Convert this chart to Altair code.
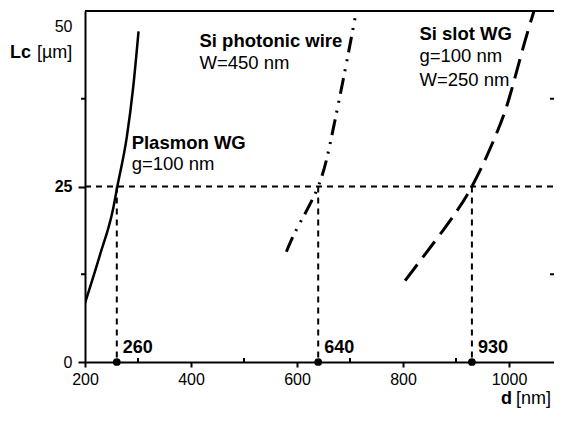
import altair as alt
import pandas as pd

FONT = "Liberation Sans"

# ---- data ----
plasmon_d = [200, 228, 253, 261, 279, 291, 301]
plasmon_lc = [8.4, 15.2, 21.8, 25.0, 32.1, 39.2, 47.1]

wire_d = [580, 602, 640, 665, 690, 712]
wire_lc = [15.7, 19.3, 25.0, 32.0, 41.3, 50.0]

slot_d = [804, 876, 930, 974, 1000, 1026, 1048]
slot_lc = [11.6, 18.8, 25.0, 32.1, 37.5, 44.6, 50.2]

cross_d = [260, 640, 930]
cross_lc = 25
cross_labels = ["260", "640", "930"]

x_tick_values = [200, 400, 600, 800, 1000]
x_minor_values = [300, 500, 700, 900]
y_tick_values = [0, 25, 50]
y_minor_values = [12.5, 37.5]

ann_text = ["Plasmon WG", "g=100 nm", "Si photonic wire", "W=450 nm",
            "Si slot WG", "g=100 nm", "W=250 nm"]
ann_bold = [True, False, True, False, True, False, False]
ann_d = [288, 288, 416, 416, 831, 831, 831]
ann_lc = [30.4, 27.4, 44.9, 41.7, 45.9, 42.7, 39.3]

W, H = 469, 351
X_MAX = 200 + W / 0.53

# ---- tables ----
plasmon = pd.DataFrame({"d": plasmon_d, "Lc": plasmon_lc})
wire = pd.DataFrame({"d": wire_d, "Lc": wire_lc})
slot = pd.DataFrame({"d": slot_d, "Lc": slot_lc})
cross = pd.DataFrame({"d": cross_d, "Lc": [cross_lc] * 3, "zero": [0] * 3,
                      "label": cross_labels})
hline = pd.DataFrame({"d": [200], "d2": [X_MAX], "Lc": [cross_lc]})
ann = pd.DataFrame({"d": ann_d, "Lc": ann_lc, "text": ann_text, "bold": ann_bold})
xminor = pd.DataFrame({"d": x_minor_values})
yminor = pd.DataFrame({"Lc": y_minor_values})
one = pd.DataFrame({"k": [0]})

xscale = alt.Scale(domain=[200, X_MAX], nice=False, zero=False)
yscale = alt.Scale(domain=[0, 50], nice=False, zero=False)

xaxis = alt.Axis(values=x_tick_values, title=None, grid=False, labelFont=FONT,
                 labelFontSize=16, labelColor="black", labelPadding=4,
                 tickSize=5, tickWidth=2, tickColor="black", format="d",
                 domainColor="black", domainWidth=2, labelFlush=False,
                 labelOverlap=False)
yaxis = alt.Axis(values=y_tick_values, title=None, grid=False, labelFont=FONT,
                 labelFontSize=16, labelColor="black", labelPadding=6,
                 tickSize=7, tickWidth=2, tickColor="black",
                 tickOpacity={"condition": {"test": "datum.value == 50", "value": 0}, "value": 1},
                 labelFontWeight={"condition": {"test": "datum.value == 25", "value": "bold"}, "value": "normal"},
                 labelOffset={"condition": {"test": "datum.value == 50", "value": 15}, "value": 0},
                 domainColor="black", domainWidth=2, labelFlush=False,
                 labelOverlap=False)


def X(field="d"):
    return alt.X(f"{field}:Q", scale=xscale, axis=xaxis)


def Y(field="Lc"):
    return alt.Y(f"{field}:Q", scale=yscale, axis=yaxis)


line_plasmon = alt.Chart(plasmon).mark_line(
    color="black", strokeWidth=2.5, interpolate="monotone", clip=True
).encode(x=X(), y=Y())

line_wire = alt.Chart(wire).mark_line(
    color="black", strokeWidth=3, interpolate="natural", clip=True,
    strokeDash=[16, 7, 2, 8, 2, 7]
).encode(x=X(), y=Y())

line_slot = alt.Chart(slot).mark_line(
    color="black", strokeWidth=3, interpolate="natural", clip=True,
    strokeDash=[20, 9]
).encode(x=X(), y=Y())

h_rule = alt.Chart(hline).mark_rule(
    color="black", strokeWidth=2, strokeDash=[6, 5]
).encode(x=X(), x2="d2:Q", y=Y())

v_rules = alt.Chart(cross).mark_rule(
    color="black", strokeWidth=2, strokeDash=[6, 5]
).encode(x=X(), y=Y(), y2="zero:Q")

dots = alt.Chart(cross).mark_circle(color="black", size=60, opacity=1).encode(
    x=X(), y=Y("zero")
)

dot_labels = alt.Chart(cross).mark_text(
    font=FONT, fontSize=18, fontWeight="bold", align="left",
    baseline="alphabetic", dx=6, dy=-9, color="black"
).encode(x=X(), y=Y("zero"), text="label:N")

ann_b = alt.Chart(ann).transform_filter("datum.bold").mark_text(
    font=FONT, fontSize=18.5, fontWeight="bold", align="left",
    baseline="alphabetic", color="black"
).encode(x=X(), y=Y(), text="text:N")

ann_n = alt.Chart(ann).transform_filter("!datum.bold").mark_text(
    font=FONT, fontSize=18.5, fontWeight="normal", align="left",
    baseline="alphabetic", color="black"
).encode(x=X(), y=Y(), text="text:N")

x_minor = alt.Chart(xminor).mark_rule(color="black", strokeWidth=2).encode(
    x=X(), y=alt.value(H), y2=alt.value(H - 4)
)

y_minor_left = alt.Chart(yminor).mark_rule(color="black", strokeWidth=2).encode(
    y=Y(), x=alt.value(-4), x2=alt.value(0)
)

y_minor_right = alt.Chart(yminor).mark_rule(color="black", strokeWidth=2).encode(
    y=Y(), x=alt.value(W - 4), x2=alt.value(W)
)

top_line = alt.Chart(one).mark_rule(color="black", strokeWidth=2).encode(
    x=alt.value(0), x2=alt.value(W), y=alt.value(0)
)

title_lc_b = alt.Chart(pd.DataFrame({"t": ["Lc"]})).mark_text(
    font=FONT, fontSize=18, fontWeight="bold", align="right",
    baseline="alphabetic", color="black"
).encode(x=alt.value(-54), y=alt.value(47), text="t:N")

title_lc_n = alt.Chart(pd.DataFrame({"t": ["[µm]"]})).mark_text(
    font=FONT, fontSize=18, align="left", baseline="alphabetic", color="black"
).encode(x=alt.value(-48), y=alt.value(47), text="t:N")

title_d_b = alt.Chart(pd.DataFrame({"t": ["d"]})).mark_text(
    font=FONT, fontSize=18, fontWeight="bold", align="right",
    baseline="alphabetic", color="black"
).encode(x=alt.value(427), y=alt.value(393), text="t:N")

title_d_n = alt.Chart(pd.DataFrame({"t": ["[nm]"]})).mark_text(
    font=FONT, fontSize=18, align="left", baseline="alphabetic", color="black"
).encode(x=alt.value(431), y=alt.value(393), text="t:N")

chart = alt.layer(
    h_rule, v_rules, line_plasmon, line_wire, line_slot, dots, dot_labels,
    ann_b, ann_n, x_minor, y_minor_left, y_minor_right, top_line,
    title_lc_b, title_lc_n, title_d_b, title_d_n
).properties(
    width=W, height=H,
    autosize=alt.AutoSizeParams(type="none"),
    padding={"left": 77, "top": 3, "right": 0, "bottom": 46},
).configure_view(stroke=None).configure(background="white")

chart.save("out.html", embed_options={"renderer": "svg", "actions": False})
